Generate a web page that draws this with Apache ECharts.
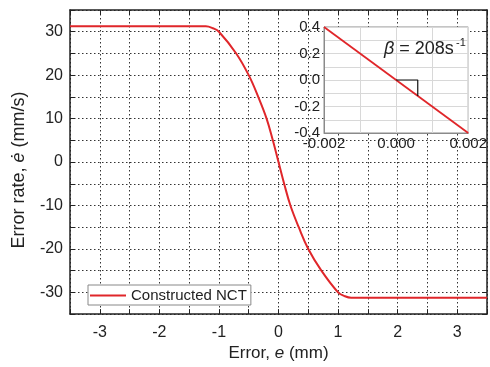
<!DOCTYPE html>
<html><head><meta charset="utf-8">
<script src="https://cdn.jsdelivr.net/npm/echarts@6/dist/echarts.min.js"></script>
<style>html,body{margin:0;padding:0;background:#fff}#c{width:490px;height:367px}</style>
</head><body><div id="c"></div>
<script>
// Main curve: error e (mm) vs error rate (mm/s)
const errorVals = [-3.5, -1.3, -1.22, -1.1, -1.0, -0.71, -0.5, -0.34, -0.2, -0.095, 0, 0.095, 0.2, 0.34, 0.5, 0.72, 1.0, 1.1, 1.22, 1.3, 3.5];
const rateVals  = [31.25, 31.25, 31.25, 30.8, 30.0, 25.0, 20.0, 15.0, 10.0, 5.0, 0, -5.0, -10.0, -15.0, -20.0, -25.0, -30.0, -30.8, -31.25, -31.25, -31.25];
// Inset: linear region
const insetX = [-0.002, 0.002];
const insetY = [0.4, -0.4];
// Slope triangle
const triX = [0, 0.0006, 0.0006];
const triY = [0, 0, -0.12];
const seriesName = 'Constructed NCT';

const FONT = 'Liberation Sans, Arial, sans-serif';
const red = '#e0262a';
const dotted = {type: [1.5, 2.5], color: '#333', width: 1};

const chart = echarts.init(document.getElementById('c'));
chart.setOption({
  animation: false,
  textStyle: {fontFamily: FONT},
  grid: [
    {left: 70, top: 10, right: -4, bottom: 43, show: false},
    {left: 324, top: 27, width: 147, height: 106, show: true, backgroundColor: '#fff', borderColor: '#8a8a8a', borderWidth: 1, z: 10}
  ],
  legend: {
    data: [seriesName], left: 88, top: 285, orient: 'horizontal',
    backgroundColor: '#fff', borderColor: '#888', borderWidth: 1, borderRadius: 0,
    padding: [3, 4, 2, 2], itemWidth: 36, itemHeight: 2, itemGap: 5, icon: 'rect',
    textStyle: {fontSize: 15, color: '#222', fontFamily: FONT}, z: 20
  },
  xAxis: [
    {type: 'value', gridIndex: 0, min: -3.5, max: 3.5, interval: 0.5,
     name: '{n|Error, }{i|e}{n| (mm)}', nameLocation: 'middle', nameGap: 25,
     nameTextStyle: {rich: {n: {fontSize: 17, color: '#222', fontFamily: FONT}, i: {fontSize: 17, color: '#222', fontStyle: 'italic', fontFamily: FONT}}},
     axisLine: {show: true, onZero: false, lineStyle: {color: '#222', width: 1.5}},
     axisTick: {show: true, inside: true, length: 5, lineStyle: {color: '#222'}},
     axisLabel: {fontSize: 16, color: '#222', margin: 10, formatter: v => (Math.abs(v % 1) < 1e-9 ? String(v) : '')},
     splitLine: {show: true, lineStyle: dotted}},
    {type: 'value', gridIndex: 0, position: 'top', min: -3.5, max: 3.5, interval: 0.5,
     axisLine: {show: true, onZero: false, lineStyle: {color: '#222', width: 1.5}},
     axisTick: {show: true, inside: true, length: 5, lineStyle: {color: '#222'}},
     axisLabel: {show: false}, splitLine: {show: false}},
    {type: 'value', gridIndex: 1, min: -0.002, max: 0.002, interval: 0.001,
     axisLine: {show: true, onZero: false, lineStyle: {color: '#8a8a8a'}},
     axisTick: {show: false},
     axisLabel: {fontSize: 15, color: '#222', margin: 3, showMinLabel: true, showMaxLabel: true,
       formatter: v => { const k = Math.round(v * 1000); return k % 2 === 0 ? (k / 1000).toFixed(3) : ''; }},
     splitLine: {show: true, lineStyle: {color: '#d8d8d8', width: 1}}, z: 11}
  ],
  yAxis: [
    {type: 'value', gridIndex: 0, min: -35, max: 35, interval: 5,
     name: '{n|Error rate, }{i|ė}{n| (mm/s)}', nameLocation: 'middle', nameGap: 42,
     nameTextStyle: {padding: [0, 16, 0, 0], rich: {n: {fontSize: 18, color: '#222', fontFamily: FONT}, i: {fontSize: 18, color: '#222', fontStyle: 'italic', fontFamily: FONT}}},
     axisLine: {show: true, onZero: false, lineStyle: {color: '#222', width: 1.5}},
     axisTick: {show: true, inside: true, length: 5, lineStyle: {color: '#222'}},
     axisLabel: {fontSize: 16, color: '#222', margin: 7, formatter: v => (v % 10 === 0 ? String(v) : '')},
     splitLine: {show: true, lineStyle: dotted}},
    {type: 'value', gridIndex: 0, position: 'right', min: -35, max: 35, interval: 5,
     axisLine: {show: true, onZero: false, lineStyle: {color: '#222', width: 1.5}},
     axisTick: {show: true, inside: true, length: 5, lineStyle: {color: '#222'}},
     axisLabel: {show: false}, splitLine: {show: false}},
    {type: 'value', gridIndex: 1, min: -0.4, max: 0.4, interval: 0.1,
     axisLine: {show: true, onZero: false, lineStyle: {color: '#8a8a8a'}},
     axisTick: {show: false},
     axisLabel: {fontSize: 15, color: '#222', margin: 4,
       formatter: v => { const k = Math.round(v * 10); return k % 2 === 0 ? (k / 10).toFixed(1) : ''; }},
     splitLine: {show: true, lineStyle: {color: '#d8d8d8', width: 1}}, z: 11}
  ],
  series: [
    {name: seriesName, type: 'line', xAxisIndex: 0, yAxisIndex: 0, smooth: 0.4, showSymbol: false,
     lineStyle: {color: red, width: 2}, itemStyle: {color: red},
     data: errorVals.map((x, i) => [x, rateVals[i]])},
    {name: 'inset', type: 'line', xAxisIndex: 2, yAxisIndex: 2, showSymbol: false, z: 12,
     lineStyle: {color: red, width: 1.8}, data: insetX.map((x, i) => [x, insetY[i]])},
    {name: 'tri', type: 'line', xAxisIndex: 2, yAxisIndex: 2, showSymbol: false, z: 12,
     lineStyle: {color: '#111', width: 1.2}, data: triX.map((x, i) => [x, triY[i]])}
  ],
  graphic: [
    {type: 'text', left: 384, top: 40, z: 30,
     style: {text: '{i|β} = 208s', rich: {i: {fontStyle: 'italic', fontSize: 18, fontFamily: FONT, fill: '#222'}}, fontSize: 18, fontFamily: FONT, fill: '#222'}},
    {type: 'text', left: 456, top: 37, z: 30, style: {text: '-1', fontSize: 11, fontFamily: FONT, fill: '#222'}}
  ]
});
</script></body></html>
